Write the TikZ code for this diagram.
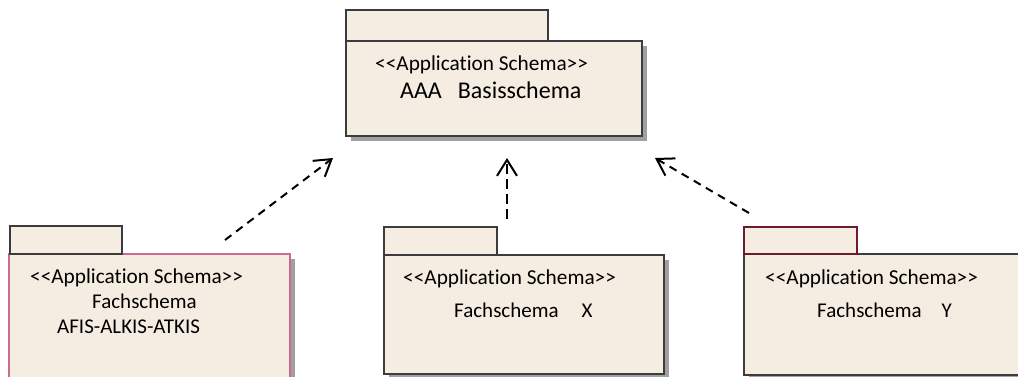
\documentclass[tikz,border=0pt]{standalone}
\usepackage{fontspec}
\setmainfont{Carlito}[Ligatures=NoCommon]
\usetikzlibrary{arrows.meta,shadows}
\definecolor{pkgfill}{RGB}{245,237,225}
\definecolor{pkgline}{RGB}{60,60,60}
\definecolor{pinkline}{RGB}{200,110,140}
\definecolor{maroonline}{RGB}{110,27,48}
\definecolor{shadowgray}{RGB}{160,160,160}
\newcommand{\stereotxt}{<\kern0pt<Application Schema>\kern0pt>}
\begin{document}
\begin{tikzpicture}[x=1pt,y=-1pt,
  pkgbody/.style={draw=pkgline, fill=pkgfill, line width=1.2pt, inner sep=0pt, outer sep=0pt, anchor=north west,
    general shadow={fill=shadowgray, shadow xshift=5pt, shadow yshift=-5pt}},
  pkgtab/.style={draw=pkgline, fill=pkgfill, line width=1.2pt, inner sep=0pt, outer sep=0pt, anchor=north west},
  stereo/.style={font=\fontsize{21.3}{25}\selectfont, anchor=base west, inner sep=0pt},
  pkgname/.style={font=\fontsize{21}{25}\selectfont, anchor=base west, inner sep=0pt},
  bigname/.style={font=\fontsize{24}{28}\selectfont, anchor=base west, inner sep=0pt},
  dep/.style={line width=2pt, dash pattern=on 8pt off 6pt,
    -{Straight Barb[length=16pt,width=20pt,line width=2pt]}}
]
\useasboundingbox (0,0) rectangle (1018,376);
\clip (0,0) rectangle (1018,376);

% top package
\node[pkgbody, minimum width=296pt, minimum height=95pt] (basisbody) at (346,41) {};
\node[pkgtab, minimum width=202pt, minimum height=31pt] (basistab) at (346,10) {};
\node[stereo] (basisster) at (375,70) {\stereotxt};
\node[bigname] (basisname) at (400,98) {AAA\hspace{16pt}Basisschema};

% left package
\node[pkgbody, draw=pinkline, minimum width=281pt, minimum height=140pt] (afisbody) at (9,254) {};
\node[pkgtab, minimum width=112pt, minimum height=28pt] (afistab) at (10,226) {};
\node[stereo] (afisster) at (30,283) {\stereotxt};
\node[pkgname] (afisname) at (92,308) {Fachschema};
\node[pkgname] (afisname2) at (57,333) {AFIS-ALKIS-ATKIS};

% middle package
\node[pkgbody, minimum width=280pt, minimum height=119pt] (xbody) at (384,255) {};
\node[pkgtab, minimum width=113pt, minimum height=28pt] (xtab) at (384,227) {};
\node[stereo] (xster) at (403,284) {\stereotxt};
\node[pkgname] (xname) at (454,317) {Fachschema\hspace{23pt}X};

% right package
\node[pkgbody, minimum width=300pt, minimum height=121pt] (ybody) at (744,254) {};
\node[pkgtab, draw=maroonline, line width=1.8pt, minimum width=113pt, minimum height=27pt] (ytab) at (744,227) {};
\node[stereo] (yster) at (765,284) {\stereotxt};
\node[pkgname] (yname) at (817,317) {Fachschema\hspace{20pt}Y};

% dependencies
\coordinate (a1s) at (225,240);
\coordinate (a1e) at (333,158);
\coordinate (a2s) at (507,219);
\coordinate (a2e) at (507,158);
\coordinate (a3s) at (749,213);
\coordinate (a3e) at (655,158);
\draw[dep] (a1s) -- (a1e);
\draw[dep, line width=2.6pt, dash pattern=on 10pt off 5pt] (a2s) -- (a2e);
\draw[dep] (a3s) -- (a3e);
\end{tikzpicture}
\end{document}
